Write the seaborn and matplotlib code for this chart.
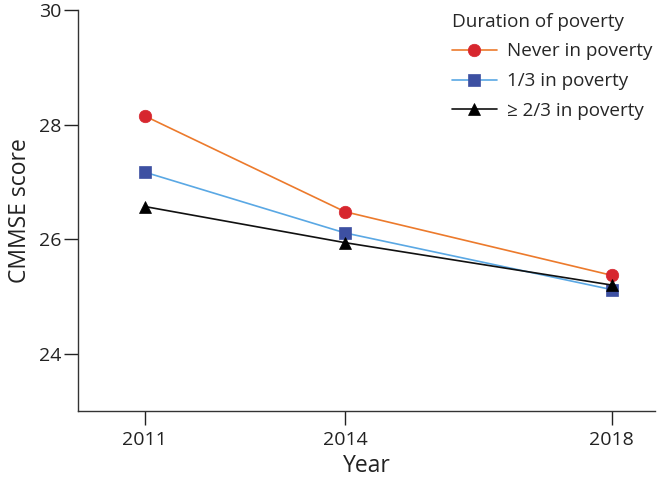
import matplotlib
matplotlib.use("Agg")
import matplotlib.pyplot as plt
import seaborn as sns
import pandas as pd

# values
years = [2011, 2014, 2018]
never_poverty = [28.15, 26.48, 25.37]
third_poverty = [27.17, 26.11, 25.12]
two_thirds_poverty = [26.57, 25.94, 25.20]

group_labels = ["Never in poverty", "1/3 in poverty", "\u2265 2/3 in poverty"]
y_ticks = [24, 26, 28, 30]

sns.set_theme(style="ticks")
plt.rcParams["font.family"] = ["Open Sans", "DejaVu Sans"]

df = pd.DataFrame({
    "Year": years * 3,
    "score": never_poverty + third_poverty + two_thirds_poverty,
    "group": [g for g in group_labels for _ in years],
})

# line colour, marker colour, marker, size
styles = {
    group_labels[0]: ("#ec7a2c", "#d7262e", "o", 9),
    group_labels[1]: ("#5aa8e4", "#3d50a2", "s", 8.5),
    group_labels[2]: ("#111111", "#000000", "^", 8.5),
}

fig = plt.figure(figsize=(6.57, 4.78), dpi=100)
ax = fig.add_axes([0.119, 0.140, 0.878, 0.839])

for g in group_labels:
    lc, mc, mk, ms = styles[g]
    sub = df[df["group"] == g]
    sns.lineplot(data=sub, x="Year", y="score", ax=ax, color=lc, lw=1.2,
                 marker=mk, markersize=ms, markerfacecolor=mc,
                 markeredgecolor=mc, markeredgewidth=0.5, label=g)

ax.set_xlim(2010, 2018.65)
ax.set_ylim(23, 30)
ax.set_xticks(years)
ax.set_yticks(y_ticks)
ax.tick_params(labelsize=14, length=10, width=1, colors="#222222")
ax.tick_params(axis="y", pad=2)
ax.tick_params(axis="x", pad=4)
ax.set_xlabel("Year", fontsize=16.5, color="#222222", labelpad=4)
ax.set_ylabel("CMMSE score", fontsize=16.5, color="#222222", labelpad=5)
sns.despine(ax=ax)
for s in ["left", "bottom"]:
    ax.spines[s].set_color("#333333")
    ax.spines[s].set_linewidth(1.0)

leg = ax.legend(title="Duration of poverty", loc="upper right",
                bbox_to_anchor=(1.016, 1.02), frameon=False, fontsize=13.6,
                title_fontsize=13.6, handlelength=2.4, alignment="left",
                labelspacing=0.62, handletextpad=0.55, borderaxespad=0.2)
leg._legend_box.sep = 8

fig.savefig("out.png", dpi=100)
